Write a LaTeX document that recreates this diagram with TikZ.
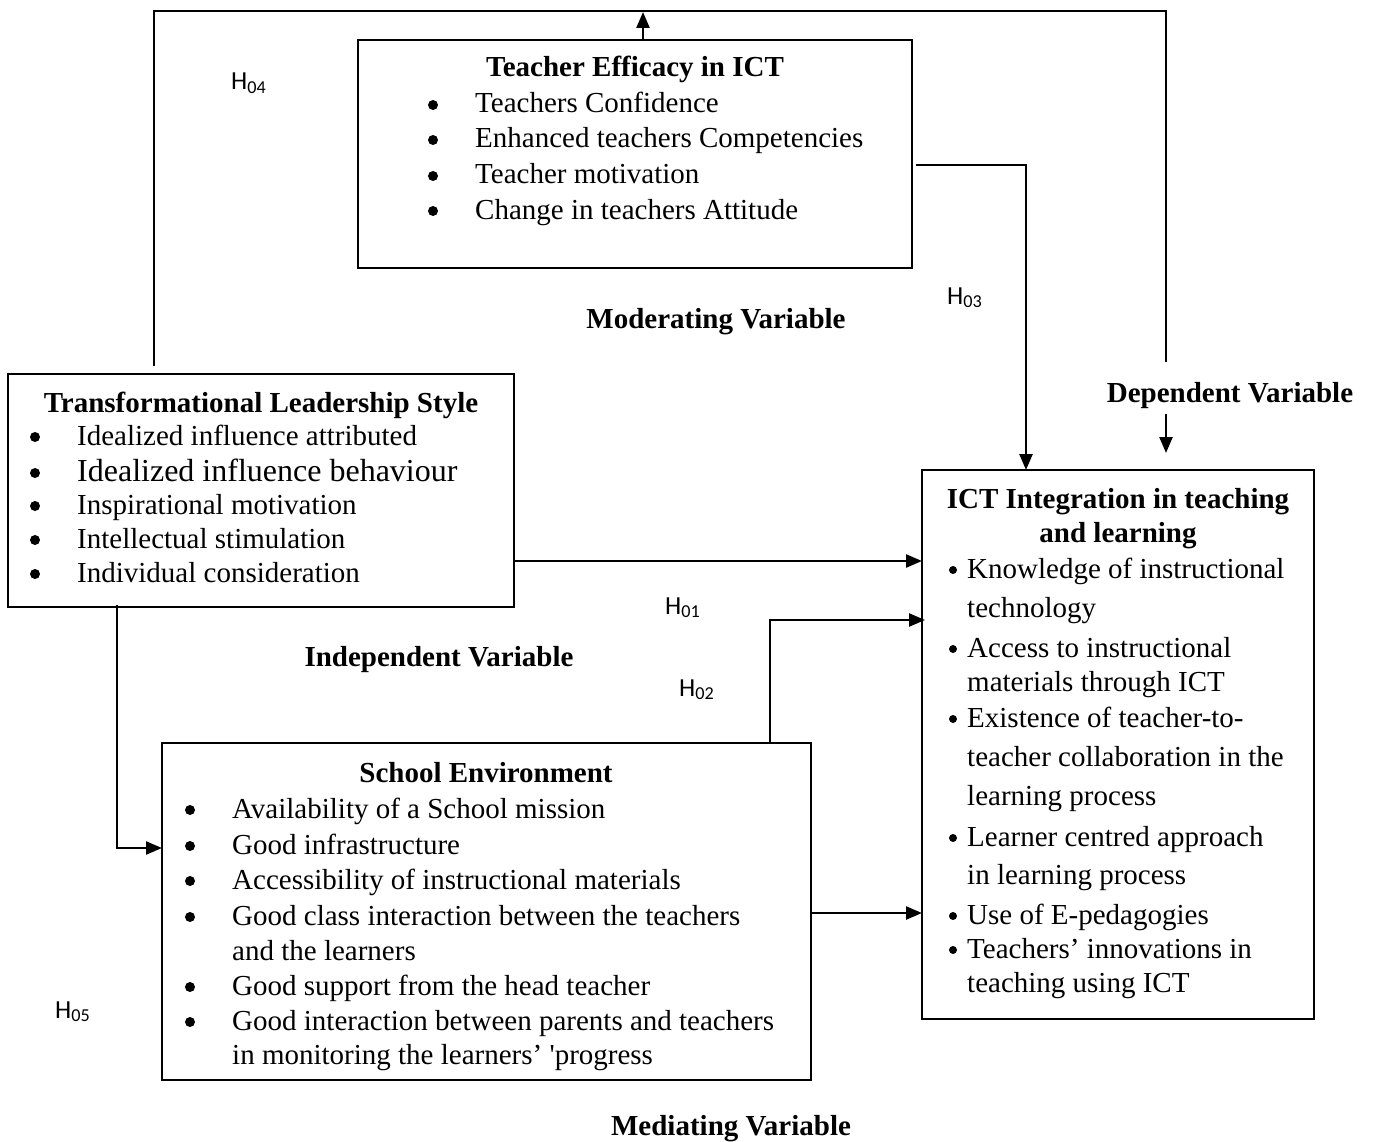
\documentclass[tikz,border=0pt]{standalone}
\usepackage{fontspec}
\setmainfont{Liberation Serif}
\newfontfamily\hfont{Carlito}
\usetikzlibrary{arrows.meta}
\tikzset{
  box/.style={draw, line width=2pt, anchor=north west, inner sep=0pt, outer sep=0pt},
  conn/.style={line width=2.4pt},
  arr/.style={conn, -{Triangle[length=16pt,width=13pt]}},
  txt/.style={anchor=base west, inner sep=0pt, font=\fontsize{29}{35}\selectfont},
  bigtxt/.style={anchor=base west, inner sep=0pt, font=\fontsize{32}{38}\selectfont},
  bul/.style={circle, fill, inner sep=0pt, minimum size=10pt},
  smbul/.style={circle, fill, inner sep=0pt, minimum size=8pt},
  ttl/.style={anchor=base, inner sep=0pt, font=\fontsize{29}{35}\selectfont\bfseries},
  hyp/.style={anchor=base west, inner sep=0pt, font=\fontsize{26}{30}\selectfont\hfont},
}
\newcommand{\bitem}[6][txt]{%
  \node[bul] (#2b) at ([yshift=8pt]#3,#5) {};
  \node[#1] (#2) at (#4,#5) {#6};}
\newcommand{\sitem}[5]{%
  \node[smbul] (#1b) at ([yshift=8pt]#2,#4) {};
  \node[txt] (#1) at (#3,#4) {#5};}
\begin{document}
\begin{tikzpicture}[x=1pt,y=-1pt]
\useasboundingbox[fill=white] (0,0) rectangle (1376,1142);

% boxes
\node[box, minimum width=554pt, minimum height=228pt] (te) at (358,40) {};
\node[box, minimum width=506pt, minimum height=233pt] (tls) at (8,374) {};
\node[box, minimum width=649pt, minimum height=337pt] (se) at (162,743) {};
\node[box, minimum width=392pt, minimum height=549pt] (ict) at (922,470) {};

% Teacher efficacy
\node[ttl] (tet) at (635,77) {Teacher Efficacy in ICT};
\bitem{te1}{433}{475}{113}{Teachers Confidence}
\bitem{te2}{433}{475}{148}{Enhanced teachers Competencies}
\bitem{te3}{433}{475}{184}{Teacher motivation}
\bitem{te4}{433}{475}{219}{Change in teachers Attitude}

% Transformational leadership
\node[ttl] (tlst) at (261,412) {Transformational Leadership Style};
\bitem{tl1}{35}{77}{445}{Idealized influence attributed}
\bitem[bigtxt]{tl2}{35}{77}{481}{Idealized influence behaviour}
\bitem{tl3}{35}{77}{514}{Inspirational motivation}
\bitem{tl4}{35}{77}{548}{Intellectual stimulation}
\bitem{tl5}{35}{77}{582}{Individual consideration}

% School environment
\node[ttl] (set) at (486,782) {School Environment};
\bitem{se1}{190}{232}{818}{Availability of a School mission}
\bitem{se2}{190}{232}{854}{Good infrastructure}
\bitem{se3}{190}{232}{889}{Accessibility of instructional materials}
\bitem{se4}{190}{232}{925}{Good class interaction between the teachers}
\node[txt] (se4b2) at (232,960) {and the learners};
\bitem{se5}{190}{232}{995}{Good support from the head teacher}
\bitem{se6}{190}{232}{1030}{Good interaction between parents and teachers}
\node[txt] (se6b2) at (232,1064) {in monitoring the learners’ \textquotesingle progress};

% ICT integration
\node[ttl] (ictt1) at (1118,508) {ICT Integration in teaching};
\node[ttl] (ictt2) at (1118,542) {and learning};
\sitem{ic1}{953}{967}{578}{Knowledge of instructional}
\node[txt] (ic1b2) at (967,617) {technology};
\sitem{ic2}{953}{967}{657}{Access to instructional}
\node[txt] (ic2b2) at (967,691) {materials through ICT};
\sitem{ic3}{953}{967}{727}{Existence of teacher-to-}
\node[txt] (ic3b2) at (967,766) {teacher collaboration in the};
\node[txt] (ic3b3) at (967,805) {learning process};
\sitem{ic4}{953}{967}{846}{Learner centred approach}
\node[txt] (ic4b2) at (967,884) {in learning process};
\sitem{ic5}{953}{967}{924}{Use of E-pedagogies}
\sitem{ic6}{953}{967}{958}{Teachers’ innovations in}
\node[txt] (ic6b2) at (967,992) {teaching using ICT};

% variable labels
\node[ttl] (modv) at (716,328) {Moderating Variable};
\node[ttl] (depv) at (1230,402) {Dependent Variable};
\node[ttl] (indv) at (439,666) {Independent Variable};
\node[ttl] (medv) at (731,1135) {Mediating Variable};

% hypotheses
\node[hyp] (h04) at (231,90) {H\textsubscript{04}};
\node[hyp] (h03) at (947,304) {H\textsubscript{03}};
\node[hyp] (h01) at (665,614) {H\textsubscript{01}};
\node[hyp] (h02) at (679,696) {H\textsubscript{02}};
\node[hyp] (h05) at (55,1018) {H\textsubscript{05}};

% connectors
\coordinate (l1) at (154,366);
\coordinate (tr) at (1166,11);
\coordinate (r1) at (1166,362);
\coordinate (r2) at (1166,414);
\coordinate (r3) at (1166,453);
\draw[conn] (l1) |- (tr) -- (r1);
\draw[arr] (r2) -- (r3);

\coordinate (up1) at (643,40);
\coordinate (up2) at (643,12);
\draw[arr] (up1) -- (up2);

\coordinate (te1s) at (916,165);
\coordinate (te1c) at (1026,165);
\draw[arr] (te1s) -- (te1c) -- (te1c |- ict.north);

\coordinate (h1y) at (0,561);
\draw[arr] (tls.east |- h1y) -- (ict.west |- h1y);

\coordinate (tlsd) at (117,605);
\coordinate (sey) at (0,848);
\draw[arr] (tlsd) |- (se.west |- sey);

\coordinate (se2a) at (770,743);
\coordinate (se2y) at (0,620);
\draw[arr] (se2a) |- ([xshift=3pt]ict.west |- se2y);

\coordinate (se3y) at (0,913);
\draw[arr] (se.east |- se3y) -- (ict.west |- se3y);
\end{tikzpicture}
\end{document}
